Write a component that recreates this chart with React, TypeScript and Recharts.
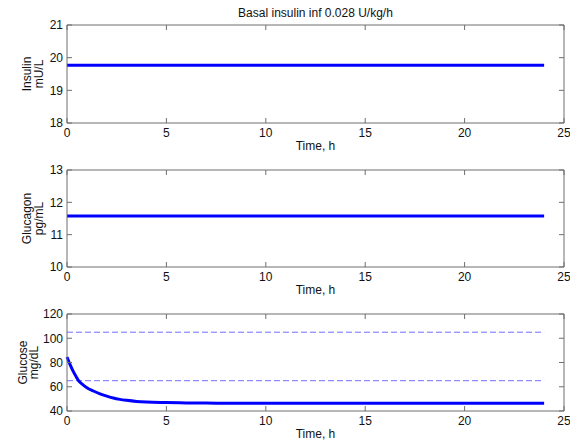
import { LineChart, Line, XAxis, YAxis } from 'recharts';

// time grid for the glucose trace (hours)
const timeH = [0, 0.15, 0.32, 0.5, 0.57, 0.75, 1, 1.33, 1.66, 2, 2.33, 2.66, 3, 3.5, 4, 5, 6, 7, 8, 10, 16, 24];
const glucoseMgDl = [84.5, 78.5, 72.5, 67.2, 65.2, 62.3, 59.2, 56.5, 54.2, 52.3, 50.7, 49.6, 48.8, 47.9, 47.4, 47.0, 46.7, 46.5, 46.4, 46.3, 46.3, 46.3];

// steady infusion: insulin and glucagon stay flat over the run
const flatTimeH = [0, 24];
const insulinMuL = [19.77, 19.77];
const glucagonPgMl = [11.58, 11.58];

// target band for glucose
const glucoseUpper = [105, 105];
const glucoseLower = [65, 65];

const timeTicks = [0, 5, 10, 15, 20, 25];
const insulinTicks = [18, 19, 20, 21];
const glucagonTicks = [10, 11, 12, 13];
const glucoseTicks = [40, 60, 80, 100, 120];

const FONT = '"Liberation Sans", Arial, sans-serif';
const FS = 12;
const AXIS = '#6f6f6f';
const TEXT = '#111';

const toRows = (xs: number[], ys: number[]) => xs.map((t, i) => ({ t, v: ys[i] }));

// two-line rotated y label; xs are the baselines of each line
const yLabel = (lines: string[], xs: number[]) => (props: any) => {
    const vb = props.viewBox || {};
    const cy = vb.y + vb.height / 2;
    return (
        <g>
            {lines.map((txt, i) => (
                <text key={txt} x={xs[i]} y={cy} transform={`rotate(-90 ${xs[i]} ${cy})`}
                    textAnchor="middle" fontSize={FS} fontFamily={FONT} fill={TEXT}>
                    {txt}
                </text>
            ))}
        </g>
    );
};

const timeLabel = (props: any) => {
    const vb = props.viewBox || {};
    return (
        <text x={vb.x + vb.width / 2} y={vb.y + 27} textAnchor="middle" fontSize={FS} fontFamily={FONT} fill={TEXT}>
            Time, h
        </text>
    );
};

const titleLabel = (props: any) => {
    const vb = props.viewBox || {};
    return (
        <text x={vb.x + vb.width / 2} y={vb.y - 7} textAnchor="middle" fontSize={FS} fontFamily={FONT} fill={TEXT}>
            Basal insulin inf 0.028 U/kg/h
        </text>
    );
};

interface PanelProps {
    top: number;
    height: number;
    marginTop: number;
    xAxisHeight: number;
    domain: [number, number];
    ticks: number[];
    label: any;
    title?: boolean;
    children: any;
}

function Panel({ top, height, marginTop, xAxisHeight, domain, ticks, label, title, children }: PanelProps) {
    const tickStyle = { fontSize: FS, fontFamily: FONT, fill: TEXT };
    return (
        <div style={{ position: 'absolute', left: 0, top }}>
            <LineChart width={570} height={height} margin={{ top: marginTop - 1, right: 5, bottom: 0, left: 0 }}>
                <XAxis xAxisId="b" dataKey="t" type="number" domain={[0, 25]} ticks={timeTicks}
                    height={xAxisHeight} stroke={AXIS} tickSize={-5} tickMargin={10} tick={tickStyle}
                    interval={0} allowDecimals={false} label={{ content: timeLabel }} />
                <XAxis xAxisId="top" orientation="top" dataKey="t" type="number" domain={[0, 25]} ticks={timeTicks}
                    height={1} stroke={AXIS} tickSize={-5} tickMargin={0} tickFormatter={() => ''}
                    interval={0} label={title ? { content: titleLabel } : undefined} />
                <YAxis yAxisId="l" type="number" domain={domain} ticks={ticks} width={67} stroke={AXIS}
                    tickSize={-5} tickMargin={9} tick={tickStyle} interval={0} label={{ content: label }} />
                <YAxis yAxisId="r" orientation="right" type="number" domain={domain} ticks={ticks} width={1}
                    stroke={AXIS} tickSize={-5} tickMargin={0} tickFormatter={() => ''} interval={0} />
                {/* invisible series so the top and right frame axes get drawn */}
                <Line xAxisId="top" yAxisId="r" data={[{ t: 0, v: domain[0] }, { t: 25, v: domain[1] }]} dataKey="v"
                    stroke="none" dot={false} activeDot={false} isAnimationActive={false} />
                {children}
            </LineChart>
        </div>
    );
}

export default function App() {
    return (
        <div style={{ position: 'absolute', left: 0, top: 0, width: 570, height: 445, background: '#fff' }}>
            <Panel top={0} height={160} marginTop={25} xAxisHeight={37} domain={[18, 21]} ticks={insulinTicks}
                label={yLabel(['Insulin', 'mU/L'], [31, 43])} title>
                <Line xAxisId="b" yAxisId="l" data={toRows(flatTimeH, insulinMuL)} dataKey="v" type="linear"
                    stroke="#0000ff" strokeWidth={3} dot={false} isAnimationActive={false} />
            </Panel>
            <Panel top={150} height={155} marginTop={20} xAxisHeight={38} domain={[10, 13]} ticks={glucagonTicks}
                label={yLabel(['Glucagon', 'pg/mL'], [31, 43])}>
                <Line xAxisId="b" yAxisId="l" data={toRows(flatTimeH, glucagonPgMl)} dataKey="v" type="linear"
                    stroke="#0000ff" strokeWidth={3} dot={false} isAnimationActive={false} />
            </Panel>
            <Panel top={295} height={150} marginTop={19} xAxisHeight={34} domain={[40, 120]} ticks={glucoseTicks}
                label={yLabel(['Glucose', 'mg/dL'], [26.5, 38])}>
                <Line xAxisId="b" yAxisId="l" data={toRows(flatTimeH, glucoseUpper)} dataKey="v" type="linear"
                    stroke="#7070ff" strokeWidth={1} strokeDasharray="6 3" dot={false} isAnimationActive={false} />
                <Line xAxisId="b" yAxisId="l" data={toRows(flatTimeH, glucoseLower)} dataKey="v" type="linear"
                    stroke="#7070ff" strokeWidth={1} strokeDasharray="6 3" dot={false} isAnimationActive={false} />
                <Line xAxisId="b" yAxisId="l" data={toRows(timeH, glucoseMgDl)} dataKey="v" type="monotone"
                    stroke="#0000ff" strokeWidth={3} dot={false} isAnimationActive={false} />
            </Panel>
        </div>
    );
}
